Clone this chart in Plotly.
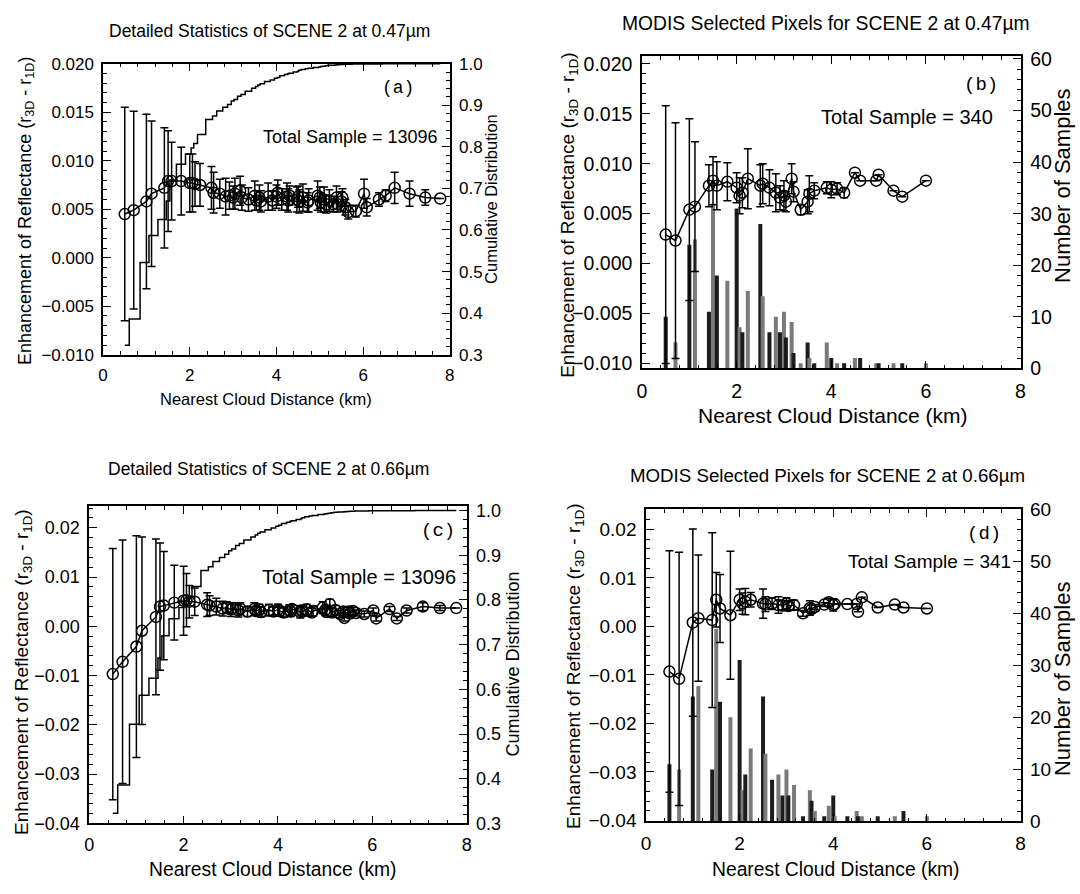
import plotly.graph_objects as go

# ---------------- data ----------------
# Panels (a) and (c): detailed statistics, 13096 samples
dist_ac = [0.5, 0.707, 1.0, 1.118, 1.414, 1.5, 1.581, 1.803, 2.0, 2.062,
           2.121, 2.236, 2.5, 2.55, 2.693, 2.828, 2.915, 3.0, 3.041, 3.162,
           3.202, 3.354, 3.5, 3.536, 3.606, 3.64, 3.808, 3.905, 4.0, 4.031,
           4.123, 4.243, 4.272, 4.301, 4.472, 4.5, 4.528, 4.61, 4.717, 4.743,
           4.95, 5.0, 5.025, 5.099, 5.148, 5.22, 5.315, 5.385, 5.408, 5.5,
           5.523, 5.59, 5.657, 5.831, 6.021, 6.083, 6.364, 6.519, 6.727, 7.071,
           7.433, 7.778]
enh_a = [0.0045, 0.0049, 0.0058, 0.0066, 0.0072, 0.0079, 0.0079, 0.0079, 0.0077, 0.0077,
         0.0076, 0.0075, 0.0072, 0.0067, 0.0066, 0.0063, 0.0064, 0.0062, 0.0066, 0.0069,
         0.0062, 0.0060, 0.0064, 0.0059, 0.0062, 0.0058, 0.0063, 0.0059, 0.0063, 0.0067,
         0.0060, 0.0063, 0.0059, 0.0064, 0.0060, 0.0063, 0.0058, 0.0062, 0.0057, 0.0059,
         0.0064, 0.0062, 0.0057, 0.0060, 0.0055, 0.0059, 0.0055, 0.0062, 0.0055, 0.0058,
         0.0062, 0.0052, 0.0047, 0.0048, 0.0066, 0.0052, 0.0060, 0.0064, 0.0072, 0.0066,
         0.0062, 0.0061]
err_a = [0.0110, 0.0102, 0.0090, 0.0075, 0.0062, 0.0052, 0.0040, 0.0035, 0.0030, 0.0030,
         0.0023, 0.0022, 0.0022, 0.0021, 0.0015, 0.0019, 0.0014, 0.0012, 0.0016, 0.0015,
         0.0013, 0.0012, 0.0015, 0.0010, 0.0013, 0.0011, 0.0014, 0.0010, 0.0012, 0.0013,
         0.0011, 0.0014, 0.0012, 0.0010, 0.0013, 0.0011, 0.0012, 0.0014, 0.0010, 0.0012,
         0.0015, 0.0011, 0.0010, 0.0013, 0.0009, 0.0011, 0.0008, 0.0012, 0.0008, 0.0010,
         0.0009, 0.0008, 0.0007, 0.0006, 0.0015, 0.0009, 0.0007, 0.0006, 0.0016, 0.0013,
         0.0008, 0.0]
enh_c = [-0.0097, -0.0072, -0.0041, -0.0009, 0.0019, 0.0040, 0.0042, 0.0048, 0.0052, 0.0053,
         0.0050, 0.0050, 0.0044, 0.0042, 0.0040, 0.0036, 0.0038, 0.0034, 0.0037, 0.0032,
         0.0036, 0.0030, 0.0035, 0.0031, 0.0034, 0.0029, 0.0033, 0.0030, 0.0034, 0.0031,
         0.0028, 0.0033, 0.0030, 0.0035, 0.0029, 0.0032, 0.0030, 0.0034, 0.0028, 0.0031,
         0.0038, 0.0033, 0.0029, 0.0045, 0.0028, 0.0033, 0.0025, 0.0030, 0.0017, 0.0030,
         0.0026, 0.0031, 0.0027, 0.0025, 0.0032, 0.0016, 0.0035, 0.0016, 0.0032, 0.0040,
         0.0037, 0.0037]
err_c = [0.0255, 0.0247, 0.0225, 0.0190, 0.0158, 0.0129, 0.0110, 0.0076, 0.0070, 0.0054,
         0.0033, 0.0028, 0.0024, 0.0020, 0.0017, 0.0015, 0.0012, 0.0014, 0.0011, 0.0013,
         0.0012, 0.0010, 0.0013, 0.0009, 0.0011, 0.0010, 0.0012, 0.0009, 0.0011, 0.0010,
         0.0009, 0.0011, 0.0010, 0.0008, 0.0012, 0.0010, 0.0009, 0.0011, 0.0008, 0.0010,
         0.0012, 0.0009, 0.0008, 0.0010, 0.0008, 0.0009, 0.0007, 0.0009, 0.0006, 0.0008,
         0.0007, 0.0008, 0.0006, 0.0006, 0.0005, 0.0005, 0.0005, 0.0004, 0.0005, 0.0008,
         0.0005, 0.0]
cum_ac = [0.323, 0.386, 0.522, 0.587, 0.625, 0.670, 0.720, 0.758, 0.783, 0.797,
          0.808, 0.830, 0.866, 0.874, 0.886, 0.895, 0.902, 0.910, 0.914, 0.922,
          0.926, 0.934, 0.941, 0.945, 0.949, 0.952, 0.957, 0.961, 0.965, 0.967,
          0.971, 0.974, 0.976, 0.977, 0.980, 0.982, 0.984, 0.986, 0.988, 0.989,
          0.991, 0.992, 0.993, 0.994, 0.995, 0.996, 0.9965, 0.997, 0.9975, 0.998,
          0.9983, 0.9986, 0.9989, 0.9991, 0.9993, 0.9995, 0.9996, 0.9997, 0.9998, 0.9999,
          0.99995, 1.0]

# Panel (b): MODIS selected pixels, 0.47 um, 340 samples
dist_b = [0.5, 0.707, 1.0, 1.118, 1.414, 1.5, 1.581, 1.803, 2.0, 2.062,
          2.121, 2.236, 2.5, 2.55, 2.693, 2.828, 2.915, 3.0, 3.041, 3.162,
          3.202, 3.354, 3.5, 3.536, 3.64, 3.905, 4.0, 4.123, 4.272, 4.5,
          4.61, 4.95, 5.0, 5.315, 5.5, 6.0]
enh_b = [0.0029, 0.0023, 0.0054, 0.0057, 0.0078, 0.0083, 0.0078, 0.0082, 0.0076, 0.0068,
         0.0071, 0.0085, 0.0078, 0.0080, 0.0076, 0.0071, 0.0066, 0.0068, 0.0062, 0.0085,
         0.0072, 0.0054, 0.0062, 0.0070, 0.0073, 0.0076, 0.0074, 0.0075, 0.0071, 0.0091,
         0.0083, 0.0083, 0.0089, 0.0073, 0.0067, 0.0083]
err_b = [0.0129, 0.0118, 0.0091, 0.0065, 0.0021, 0.0024, 0.0024, 0.0019, 0.0015, 0.0018,
         0.0015, 0.0030, 0.0021, 0.0020, 0.0018, 0.0019, 0.0012, 0.0015, 0.0010, 0.0015,
         0.0010, 0.0005, 0.0012, 0.0018, 0.0008, 0.0006, 0.0008, 0.0006, 0.0005, 0.0,
         0.0, 0.0, 0.0, 0.0, 0.0, 0.0]
num_b = [10, 5, 24, 25, 11, 32, 18, 17, 31, 8,
         7, 15, 28, 14, 7, 10, 7, 11, 6, 9,
         3, 1, 5, 2, 1, 5, 2, 1, 1, 2,
         2, 1, 1, 1, 1, 1]

# Panel (d): MODIS selected pixels, 0.66 um, 341 samples
dist_d = [0.5, 0.707, 1.0, 1.118, 1.414, 1.5, 1.581, 1.803, 2.0, 2.062,
          2.121, 2.236, 2.5, 2.55, 2.693, 2.828, 2.915, 3.0, 3.041, 3.162,
          3.354, 3.5, 3.536, 3.606, 3.808, 3.905, 4.0, 4.031, 4.301, 4.5,
          4.528, 4.61, 4.95, 5.315, 5.5, 6.0]
enh_d = [-0.0093, -0.0108, 0.0008, 0.0017, 0.0013, 0.0055, 0.0037, 0.0023, 0.0055, 0.0047,
         0.0051, 0.0055, 0.0047, 0.0046, 0.0047, 0.0044, 0.0043, 0.0047, 0.0042, 0.0044,
         0.0027, 0.0038, 0.0036, 0.0040, 0.0045, 0.0050, 0.0044, 0.0046, 0.0046, 0.0046,
         0.0030, 0.0060, 0.0039, 0.0045, 0.0039, 0.0037]
err_d = [0.0249, 0.0261, 0.0193, 0.0130, 0.0180, 0.0056, 0.0070, 0.0132, 0.0022, 0.0022,
         0.0027, 0.0015, 0.0030, 0.0015, 0.0012, 0.0017, 0.0010, 0.0012, 0.0009, 0.0010,
         0.0006, 0.0015, 0.0008, 0.0005, 0.0004, 0.0008, 0.0012, 0.0, 0.0, 0.0,
         0.0, 0.0, 0.0, 0.0, 0.0, 0.0]
num_d = [11, 10, 24, 26, 10, 37, 23, 20, 31, 6,
         9, 14, 24, 13, 8, 9, 5, 10, 5, 7,
         1, 6, 4, 2, 1, 3, 5, 1, 1, 2,
         1, 1, 1, 1, 2, 1]

titles = ["Detailed Statistics of SCENE 2 at 0.47\u00b5m",
          "MODIS Selected Pixels for SCENE 2 at 0.47\u00b5m",
          "Detailed Statistics of SCENE 2 at 0.66\u00b5m",
          "MODIS Selected Pixels for SCENE 2 at 0.66\u00b5m"]
tags = ["(a)", "(b)", "(c)", "(d)"]
totals = ["Total Sample = 13096", "Total Sample = 340",
          "Total Sample = 13096", "Total Sample = 341"]
x_title = "Nearest Cloud Distance (km)"
y_left_title = "Enhancement of Reflectance (r<sub>3D</sub> - r<sub>1D</sub>)"
y_right_titles = ["Cumulative Distribution", "Number of Samples",
                  "Cumulative Distribution", "Number of Samples"]

# ---------------- layout helpers ----------------
W, H = 1080, 894
FONT = "Liberation Sans, Arial, Helvetica, sans-serif"
MONO = "Liberation Mono, Courier New, monospace"


def fx(p):
    return p / W


def fy(p):
    return 1 - p / H


def errs(v):
    return [e if e > 0 else None for e in v]


# plot boxes in pixels: left, right, top, bottom
boxes = {
    "a": (99, 449, 55, 353),
    "b": (643, 1025, 47, 367),
    "c": (85, 466, 508, 833),
    "d": (647, 1025, 511, 831),
}


def axis_style(fs, minor_dtick):
    return dict(showline=True, linecolor="black", linewidth=1.5,
                ticks="inside", ticklen=8, tickwidth=1.3, tickcolor="black",
                showgrid=False, zeroline=False,
                minor=dict(ticks="inside", ticklen=4, tickwidth=1,
                           tickcolor="black", dtick=minor_dtick, showgrid=False),
                tickfont=dict(family=FONT, size=fs, color="black"))


fig = go.Figure()

bar_colors_b = ["#1c1c1c" if i % 2 == 0 else "#7a7a7a" for i in range(len(num_b))]
bar_colors_d = ["#1c1c1c" if i % 2 == 0 else "#7a7a7a" for i in range(len(num_d))]

mk = dict(symbol="circle-open", size=11, color="black", line=dict(width=1.5, color="black"))
ln = dict(color="black", width=1.5)


def ebar(v):
    return dict(type="data", array=errs(v), visible=True, color="black",
                thickness=1.5, width=4)


# (a)
fig.add_trace(go.Scatter(x=dist_ac, y=cum_ac, mode="lines",
                         line=dict(shape="hvh", color="black", width=1.5),
                         xaxis="x", yaxis="y", hoverinfo="skip"))
fig.add_trace(go.Scatter(x=dist_ac, y=enh_a, mode="lines+markers", line=ln, marker=mk,
                         error_y=ebar(err_a), xaxis="x", yaxis="y2"))
# (b)
fig.add_trace(go.Bar(x=dist_b, y=num_b, width=0.085,
                     marker=dict(color=bar_colors_b, line=dict(width=0)),
                     xaxis="x2", yaxis="y3"))
fig.add_trace(go.Scatter(x=dist_b, y=enh_b, mode="lines+markers", line=ln, marker=mk,
                         error_y=ebar(err_b), xaxis="x2", yaxis="y4"))
# (c)
fig.add_trace(go.Scatter(x=dist_ac, y=cum_ac, mode="lines",
                         line=dict(shape="hvh", color="black", width=1.5),
                         xaxis="x3", yaxis="y5", hoverinfo="skip"))
fig.add_trace(go.Scatter(x=dist_ac, y=enh_c, mode="lines+markers", line=ln, marker=mk,
                         error_y=ebar(err_c), xaxis="x3", yaxis="y6"))
# (d)
fig.add_trace(go.Bar(x=dist_d, y=num_d, width=0.085,
                     marker=dict(color=bar_colors_d, line=dict(width=0)),
                     xaxis="x4", yaxis="y7"))
fig.add_trace(go.Scatter(x=dist_d, y=enh_d, mode="lines+markers", line=ln, marker=mk,
                         error_y=ebar(err_d), xaxis="x4", yaxis="y8"))

layout = dict(width=W, height=H, margin=dict(l=0, r=0, t=0, b=0),
              paper_bgcolor="white", plot_bgcolor="white", showlegend=False,
              font=dict(family=FONT, color="black"))

# tick font sizes per panel
fs = {"a": 17, "b": 19.5, "c": 18, "d": 19}
keys = ["a", "b", "c", "d"]
for i, k in enumerate(keys):
    l, r, t, b = boxes[k]
    xn = "xaxis" if i == 0 else f"xaxis{i + 1}"
    base_id = 2 * i + 1
    over_id = 2 * i + 2
    base_name = "yaxis" if base_id == 1 else f"yaxis{base_id}"
    over_name = f"yaxis{over_id}"
    base_ref = "y" if base_id == 1 else f"y{base_id}"
    xref = "x" if i == 0 else f"x{i + 1}"

    xa = axis_style(fs[k], 0.4)
    xa.update(domain=[fx(l), fx(r)], anchor=base_ref, range=[0, 8],
              tickmode="linear", tick0=0, dtick=2, mirror="ticks",
              ticklabelstandoff=4)
    layout[xn] = xa

    ya = axis_style(fs[k], 0.02 if k in "ac" else 2)
    ya.update(domain=[fy(b), fy(t)], anchor=xref, side="right")
    if k == "a":
        ya.update(range=[0.3, 1.0], tickmode="linear", tick0=0.3, dtick=0.1, tickformat=".1f")
    elif k == "c":
        ya.update(range=[0.3, 1.01], tickmode="linear", tick0=0.3, dtick=0.1, tickformat=".1f")
    elif k == "b":
        ya.update(range=[0, 60.6], tickmode="linear", tick0=0, dtick=10)
    else:
        ya.update(range=[0, 60.0], tickmode="linear", tick0=0, dtick=10)
    ya.update(ticklabelstandoff=4)
    layout[base_name] = ya

    yo = axis_style(fs[k], 0.001 if k in "ab" else 0.002)
    yo.update(overlaying=base_ref, anchor=xref, side="left", ticklabelstandoff=4)
    if k == "a":
        yo.update(range=[-0.01, 0.02], tickmode="linear", tick0=0, dtick=0.005, tickformat=".3f")
    elif k == "b":
        yo.update(range=[-0.0105, 0.0208], tickmode="linear", tick0=0, dtick=0.005, tickformat=".3f")
    elif k == "c":
        yo.update(range=[-0.04, 0.0244], tickmode="linear", tick0=0, dtick=0.01, tickformat=".2f")
    else:
        yo.update(range=[-0.0402, 0.0242], tickmode="linear", tick0=0, dtick=0.01, tickformat=".2f")
    layout[over_name] = yo

fig.update_layout(**layout)

ann = []


def add_text(text, xp, yp, size, family=FONT, angle=0, xanchor="center"):
    ann.append(dict(text=text, x=fx(xp), y=fy(yp), xref="paper", yref="paper",
                    showarrow=False, textangle=angle, xanchor=xanchor, yanchor="middle",
                    font=dict(family=family, size=size, color="black")))


# titles
add_text(titles[0], 267, 22, 17.5)
add_text(titles[1], 829, 14, 19.3)
add_text(titles[2], 266, 470, 17.5)
add_text(titles[3], 830, 477, 18.7)
# tags and totals
add_text(tags[0], 397, 80, 18, MONO)
add_text(tags[1], 985, 77, 19, MONO)
add_text(tags[2], 437, 534, 19, MONO)
add_text(tags[3], 988, 537, 19, MONO)
add_text(totals[0], 439, 130, 18, xanchor="right")
add_text(totals[1], 999, 110, 20, xanchor="right")
add_text(totals[2], 457, 581, 20, xanchor="right")
add_text(totals[3], 1017, 565, 19, xanchor="right")
# x titles
add_text(x_title, 263, 398, 16.5)
add_text(x_title, 836, 415, 21)
add_text(x_title, 270, 880, 19.3)
add_text(x_title, 839, 880, 19.3)
# left y titles
add_text(y_left_title, 21, 206, 18, angle=-90)
add_text(y_left_title, 569, 210, 19, angle=-90)
add_text(y_left_title, 18, 678, 19, angle=-90)
add_text(y_left_title, 576, 672, 19, angle=-90)
# right y titles
add_text(y_right_titles[0], 491, 193, 16.5, angle=-90)
add_text(y_right_titles[1], 1068, 180, 22, angle=-90)
add_text(y_right_titles[2], 513, 670, 18, angle=-90)
add_text(y_right_titles[3], 1068, 685, 22, angle=-90)

fig.update_layout(annotations=ann)
fig.write_html("out.html")
